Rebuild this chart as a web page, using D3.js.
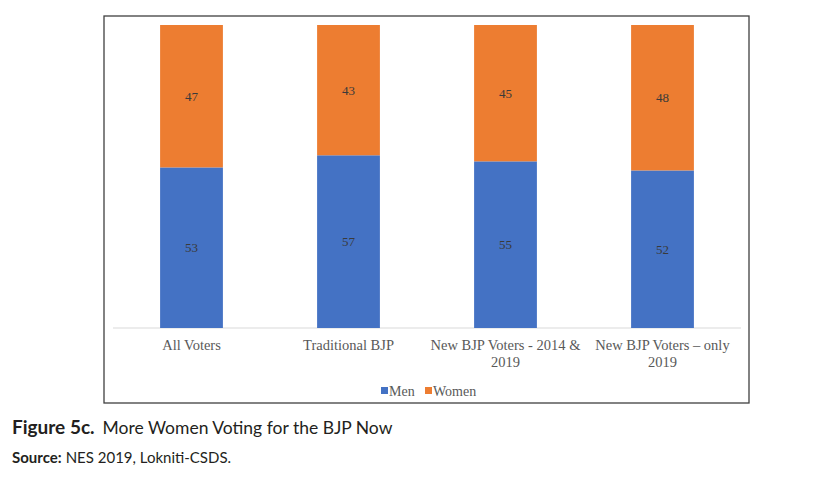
<!DOCTYPE html>
<html lang="en">
<head>
<meta charset="utf-8">
<title>Figure 5c</title>
<script src="https://cdnjs.cloudflare.com/ajax/libs/d3/7.8.5/d3.min.js"></script>
<style>
  body { margin: 0; background: #fff; }
  .cap { font-family: Lato, "Open Sans", sans-serif; fill: #231f20; }
</style>
</head>
<body>
<svg id="chart" width="824" height="489"></svg>
<script>
// data
const categories = ["All Voters", "Traditional BJP", "New BJP Voters - 2014 & 2019", "New BJP Voters \u2013 only 2019"];
const labelLines = [["All Voters"], ["Traditional BJP"], ["New BJP Voters - 2014 &", "2019"], ["New BJP Voters \u2013 only", "2019"]];
const seriesNames = ["Men", "Women"];
const men = [53, 57, 55, 52];
const women = [47, 43, 45, 48];
const colors = ["#4472c4", "#ed7d31"];

const svg = d3.select("#chart");

// chart frame
svg.append("rect")
  .attr("x", 104).attr("y", 16)
  .attr("width", 645).attr("height", 387)
  .attr("fill", "#fff").attr("stroke", "#404040").attr("stroke-width", 1.3);

const x = d3.scaleBand()
  .domain(categories)
  .range([113, 741])
  .paddingInner(0.6)
  .paddingOuter(0.3);

const y = d3.scaleLinear().domain([0, 100]).range([328, 25]);

const rows = categories.map((c, i) => ({ cat: c, Men: men[i], Women: women[i] }));
const stacked = d3.stack().keys(seriesNames)(rows);

// baseline
svg.append("line")
  .attr("x1", 113).attr("x2", 741)
  .attr("y1", y(0)).attr("y2", y(0))
  .attr("stroke", "#d9d9d9");

const layers = svg.selectAll("g.layer")
  .data(stacked)
  .join("g")
  .attr("class", "layer")
  .attr("fill", (d, i) => colors[i]);

layers.selectAll("rect")
  .data(d => d)
  .join("rect")
  .attr("x", d => x(d.data.cat))
  .attr("width", x.bandwidth())
  .attr("y", d => y(d[1]))
  .attr("height", d => y(d[0]) - y(d[1]));

layers.selectAll("text")
  .data(d => d)
  .join("text")
  .attr("x", d => x(d.data.cat) + x.bandwidth() / 2)
  .attr("y", d => (y(d[0]) + y(d[1])) / 2 + 4.5)
  .attr("text-anchor", "middle")
  .attr("font-family", "Liberation Serif, serif")
  .attr("font-size", 13)
  .attr("fill", "#3a3a3a")
  .text(d => d[1] - d[0]);

// category labels
const xl = svg.append("g")
  .attr("font-family", "Liberation Serif, serif")
  .attr("font-size", 14.5)
  .attr("fill", "#595959");
categories.forEach((c, i) => {
  const t = xl.append("text")
    .attr("x", x(c) + x.bandwidth() / 2)
    .attr("y", 350)
    .attr("text-anchor", "middle");
  labelLines[i].forEach((line, j) => {
    t.append("tspan")
      .attr("x", x(c) + x.bandwidth() / 2)
      .attr("dy", j === 0 ? 0 : 17)
      .text(line);
  });
});

// legend
const legendX = [381, 425];
const lg = svg.append("g")
  .attr("font-family", "Liberation Serif, serif")
  .attr("font-size", 14)
  .attr("fill", "#595959");
seriesNames.forEach((s, i) => {
  lg.append("rect")
    .attr("x", legendX[i]).attr("y", 387)
    .attr("width", 7).attr("height", 7)
    .attr("fill", colors[i]);
  lg.append("text")
    .attr("x", legendX[i] + 8).attr("y", 396)
    .text(s);
});

// caption
const cap = svg.append("text").attr("class", "cap")
  .attr("x", 12).attr("y", 434).attr("font-size", 17.5);
cap.append("tspan").attr("font-weight", "bold").attr("font-size", 19).text("Figure 5c.");
cap.append("tspan").attr("dx", 8).text("More Women Voting for the BJP Now");

const src = svg.append("text").attr("class", "cap")
  .attr("x", 12).attr("y", 463).attr("font-size", 15);
src.append("tspan").attr("font-weight", "bold").text("Source:");
src.append("tspan").attr("dx", 4).text("NES 2019, Lokniti-CSDS.");
</script>
</body>
</html>
